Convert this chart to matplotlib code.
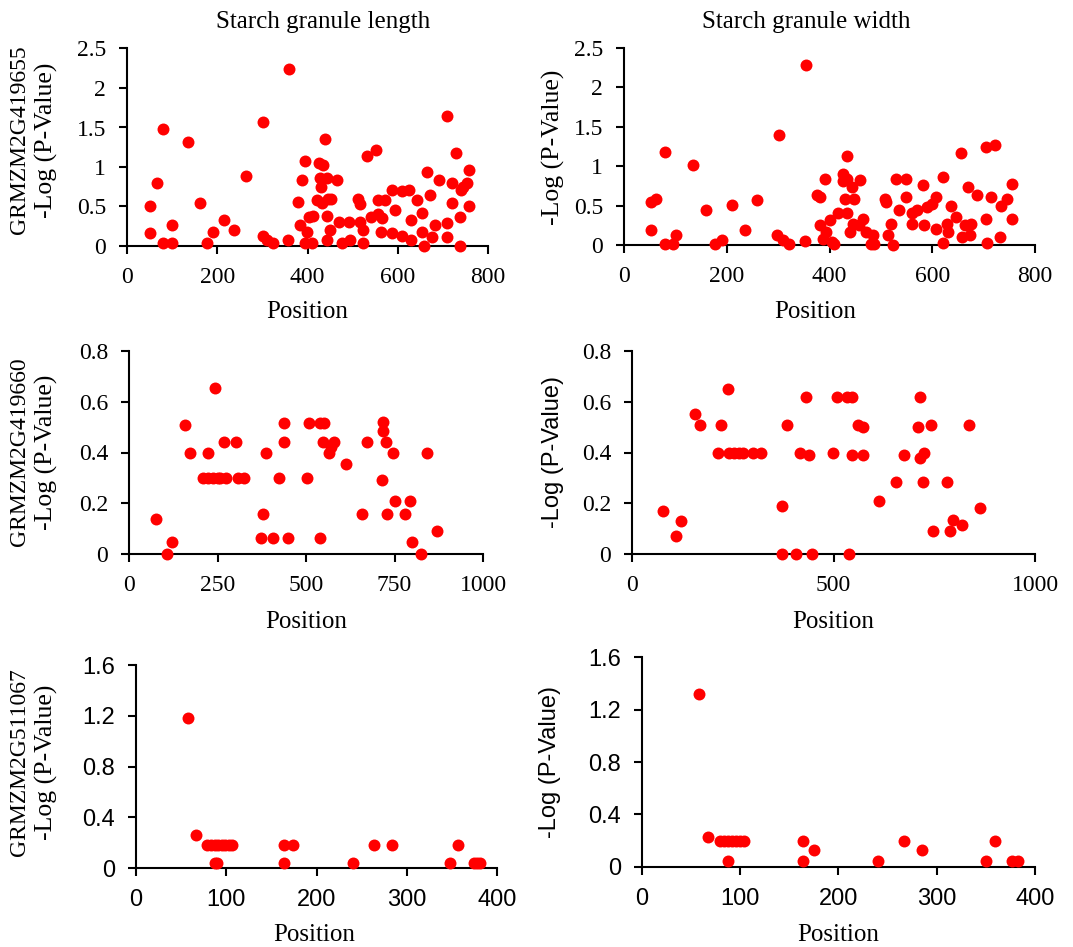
import matplotlib
matplotlib.use("Agg")
import matplotlib.pyplot as plt

W, H = 1073, 947

# ---- data ----
len_655_x = [52, 52, 66, 79, 79, 99, 99, 135, 162, 178,
             190, 214, 237, 264, 302, 301, 310, 323, 356, 360,
             380, 384, 387, 395, 395, 398, 404, 410, 413, 420,
             425, 428, 430, 435, 438, 432, 443, 443, 446, 450,
             443, 451, 465, 469, 476, 494, 493, 511, 517, 517,
             524, 524, 531, 540, 552, 557, 562, 557, 564, 572,
             587, 587, 594, 609, 609, 624, 629, 629, 642, 653,
             653, 659, 664, 672, 675, 682, 692, 709, 710, 710,
             720, 720, 729, 737, 737, 740, 745, 753, 759, 759]
len_655_y = [0.51, 0.16, 0.80, 1.48, 0.04, 0.27, 0.04, 1.32, 0.54, 0.04,
             0.18, 0.33, 0.20, 0.89, 1.57, 0.13, 0.08, 0.04, 0.07, 2.24,
             0.56, 0.26, 0.84, 1.08, 0.04, 0.18, 0.37, 0.04, 0.38, 0.58,
             1.05, 0.86, 0.75, 1.03, 1.36, 0.54, 0.38, 0.86, 0.60, 0.20,
             0.08, 0.60, 0.83, 0.31, 0.04, 0.07, 0.31, 0.60, 0.53, 0.31,
             0.20, 0.04, 1.14, 0.37, 1.22, 0.58, 0.18, 0.41, 0.35, 0.58,
             0.71, 0.16, 0.46, 0.69, 0.13, 0.71, 0.33, 0.08, 0.58, 0.42,
             0.18, 0.00, 0.94, 0.65, 0.11, 0.27, 0.83, 0.29, 1.64, 0.11,
             0.80, 0.55, 1.18, 0.37, 0.00, 0.71, 0.75, 0.80, 0.96, 0.51]

wid_655_x = [52, 62, 52, 80, 80, 96, 101, 135, 160, 177,
             190, 211, 235, 258, 301, 297, 310, 322, 352, 355,
             376, 382, 391, 382, 387, 394, 401, 404, 408, 417,
             427, 427, 430, 434, 435, 435, 443, 440, 446, 448,
             459, 466, 457, 471, 485, 487, 480, 508, 510, 514,
             519, 524, 529, 536, 549, 549, 560, 561, 571, 582,
             583, 589, 599, 607, 607, 621, 621, 628, 631, 636,
             647, 656, 657, 663, 670, 673, 676, 687, 704, 705,
             706, 715, 722, 731, 733, 746, 756, 756]
wid_655_y = [0.55, 0.59, 0.19, 1.18, 0.01, 0.01, 0.13, 1.02, 0.45, 0.01,
             0.06, 0.51, 0.19, 0.57, 1.40, 0.13, 0.06, 0.01, 0.05, 2.28,
             0.63, 0.61, 0.84, 0.25, 0.08, 0.17, 0.32, 0.04, 0.01, 0.40,
             0.90, 0.81, 0.59, 1.13, 0.84, 0.40, 0.74, 0.17, 0.27, 0.59,
             0.82, 0.33, 0.25, 0.16, 0.13, 0.01, 0.01, 0.59, 0.55, 0.13,
             0.27, 0.00, 0.84, 0.45, 0.84, 0.61, 0.27, 0.40, 0.44, 0.76,
             0.25, 0.48, 0.52, 0.61, 0.20, 0.86, 0.02, 0.27, 0.17, 0.50,
             0.36, 1.17, 0.10, 0.25, 0.73, 0.13, 0.27, 0.63, 1.24, 0.33,
             0.02, 0.61, 1.27, 0.10, 0.50, 0.59, 0.77, 0.33]

len_660_x = [76, 107, 121, 157, 171, 222, 242, 210, 224, 237,
             250, 258, 267, 275, 302, 309, 324, 388, 378, 373,
             408, 423, 437, 437, 449, 508, 503, 539, 550, 539,
             548, 564, 570, 578, 614, 659, 673, 718, 718, 725,
             715, 729, 746, 750, 779, 795, 800, 826, 841, 869]
len_660_y = [0.14, 0.00, 0.05, 0.51, 0.40, 0.40, 0.655, 0.30, 0.30, 0.30,
             0.30, 0.30, 0.44, 0.30, 0.44, 0.30, 0.30, 0.40, 0.16, 0.065,
             0.065, 0.30, 0.515, 0.44, 0.065, 0.515, 0.30, 0.515, 0.515, 0.065,
             0.44, 0.40, 0.42, 0.44, 0.355, 0.16, 0.44, 0.52, 0.485, 0.44,
             0.29, 0.16, 0.40, 0.21, 0.16, 0.21, 0.05, 0.00, 0.40, 0.09]

wid_660_x = [76, 108, 121, 156, 169, 222, 239, 214, 240, 253,
             266, 276, 301, 319, 385, 371, 371, 407, 446, 418,
             440, 433, 508, 534, 547, 539, 499, 547, 561, 574,
             574, 613, 656, 674, 714, 710, 714, 724, 722, 741,
             746, 782, 789, 797, 820, 836, 863]
wid_660_y = [0.17, 0.07, 0.13, 0.55, 0.51, 0.51, 0.65, 0.40, 0.40, 0.40,
             0.40, 0.40, 0.40, 0.40, 0.51, 0.19, 0.00, 0.00, 0.00, 0.40,
             0.39, 0.62, 0.62, 0.62, 0.62, 0.00, 0.40, 0.39, 0.51, 0.50,
             0.39, 0.21, 0.285, 0.39, 0.62, 0.50, 0.38, 0.40, 0.285, 0.51,
             0.09, 0.285, 0.09, 0.135, 0.115, 0.51, 0.18]

len_067_x = [58, 67, 79, 83, 87, 91, 95, 99, 103, 106,
             88, 90, 164, 174, 164, 240, 264, 284, 348, 357,
             374, 378, 381]
len_067_y = [1.18, 0.26, 0.18, 0.18, 0.18, 0.18, 0.18, 0.18, 0.18, 0.18,
             0.04, 0.04, 0.18, 0.18, 0.04, 0.04, 0.18, 0.18, 0.04, 0.18,
             0.04, 0.04, 0.04]

wid_067_x = [58, 67, 80, 84, 88, 92, 96, 100, 104, 88,
             164, 164, 175, 240, 267, 285, 350, 359, 377, 383]
wid_067_y = [1.32, 0.23, 0.20, 0.20, 0.20, 0.20, 0.20, 0.20, 0.20, 0.04,
             0.20, 0.04, 0.13, 0.04, 0.20, 0.13, 0.04, 0.20, 0.04, 0.04]

genes = ["GRMZM2G419655", "GRMZM2G419660", "GRMZM2G511067"]
titles = ["Starch granule length", "Starch granule width"]

SERIF = ["Liberation Serif", "DejaVu Serif"]
SANS = ["Liberation Sans", "DejaVu Sans"]


def rect(l, r, t, b):
    return [l / W, 1 - b / H, (r - l) / W, (b - t) / H]


def ftext(x, y, s, size=17, family=SERIF, rot=0):
    fig.text(x / W, 1 - y / H, s, ha="center", va="center",
             rotation=rot, fontsize=size, family=family)


def panel(box, xs, ys, xlim, xticks, ylim, yticks, ylab_fmt, font):
    ax = fig.add_axes(rect(*box))
    ax.scatter(xs, ys, s=74, color="#ff0000", linewidths=0,
               clip_on=False, zorder=3)
    ax.set_xlim(*xlim)
    ax.set_ylim(*ylim)
    ax.set_xticks(xticks)
    ax.set_yticks(yticks)
    ax.set_xticklabels([str(t) for t in xticks], family=font, fontsize=17)
    ax.set_yticklabels([ylab_fmt(t) for t in yticks], family=font, fontsize=17)
    for side in ["top", "right"]:
        ax.spines[side].set_visible(False)
    for side in ["left", "bottom"]:
        ax.spines[side].set_linewidth(1.5)
    ax.tick_params(axis="both", direction="out", length=6, width=1.5)
    ax.tick_params(axis="x", pad=9)
    ax.tick_params(axis="y", pad=9)
    return ax


def fmt_top(v):
    return "0" if v == 0 else (str(int(v)) if v == int(v) else f"{v:g}")


def fmt_one(v):
    return "0" if v == 0 else f"{v:.1f}"


fig = plt.figure(figsize=(W / 100, H / 100), dpi=100)

# row 1
panel((127, 488, 48.5, 246), len_655_x, len_655_y, (0, 800), [0, 200, 400, 600, 800],
      (0, 2.5), [0, 0.5, 1, 1.5, 2, 2.5], fmt_top, SERIF)
panel((624, 1035, 48, 245), wid_655_x, wid_655_y, (0, 800), [0, 200, 400, 600, 800],
      (0, 2.5), [0, 0.5, 1, 1.5, 2, 2.5], fmt_top, SERIF)

# row 2
panel((129, 483, 350.7, 554.3), len_660_x, len_660_y, (0, 1000), [0, 250, 500, 750, 1000],
      (0, 0.8), [0, 0.2, 0.4, 0.6, 0.8], fmt_one, SERIF)
panel((632, 1035, 350.7, 554.3), wid_660_x, wid_660_y, (0, 1000), [0, 500, 1000],
      (0, 0.8), [0, 0.2, 0.4, 0.6, 0.8], fmt_one, SERIF)

# row 3
panel((136, 497, 665, 868.3), len_067_x, len_067_y, (0, 400), [0, 100, 200, 300, 400],
      (0, 1.6), [0, 0.4, 0.8, 1.2, 1.6], fmt_one, SANS)
panel((641.7, 1035, 657.3, 866.7), wid_067_x, wid_067_y, (0, 400), [0, 100, 200, 300, 400],
      (0, 1.6), [0, 0.4, 0.8, 1.2, 1.6], fmt_one, SANS)

# titles
ftext(323, 22, titles[0], size=18)
ftext(806, 22, titles[1], size=18)

# x labels
for x, y in [(307, 312), (815, 312), (306, 622), (833, 622), (314, 935), (838, 935)]:
    ftext(x, y, "Position", size=18)

# gene names and y labels
for g, y in zip(genes, [140, 452, 762]):
    ftext(20, y, g, size=17, rot=90)
    ftext(46, y, "-Log (P-Value)", size=18.5, rot=90)
ftext(553, 147, "-Log (P-Value)", size=18.5, rot=90)
ftext(553, 452, "-Log (P-Value)", size=17, family=SANS, rot=90)
ftext(550, 762, "-Log (P-Value)", size=17, family=SANS, rot=90)

fig.savefig("out.png", dpi=100, facecolor="white")
